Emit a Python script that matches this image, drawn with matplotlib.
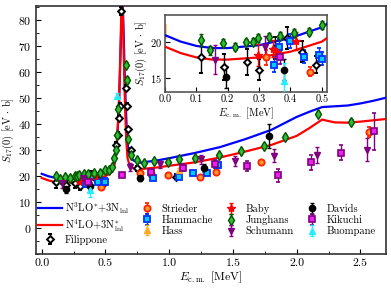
import numpy as np
import matplotlib
matplotlib.use('Agg')
import matplotlib.pyplot as plt

plt.rcParams['font.family'] = 'serif'
plt.rcParams['font.serif'] = ['cmr10']
plt.rcParams['mathtext.fontset'] = 'cm'
plt.rcParams['axes.formatter.use_mathtext'] = True
plt.rcParams['axes.unicode_minus'] = False

# theory curves
e_th = [0.0, 0.05, 0.1, 0.15, 0.2, 0.3, 0.4, 0.5, 0.55, 0.57, 0.584, 0.595, 0.607, 0.615,
        0.62, 0.625, 0.632, 0.64, 0.646, 0.652, 0.658, 0.667, 0.677, 0.69, 0.72, 0.77,
        0.9, 1.0, 1.2, 1.4, 1.6, 1.8, 2.0, 2.1, 2.2, 2.3, 2.4, 2.5, 2.6, 2.7]
s_n3lo = [20.9, 20.0, 19.4, 19.1, 19.1, 19.5, 20.5, 22.0, 23.5, 26.0, 30.0, 37.0, 49.0, 62.0,
          70.0, 80.0, 90.0, 80.0, 69.0, 58.0, 49.0, 38.0, 31.0, 28.0, 26.0, 25.2,
          26.0, 26.9, 28.9, 31.2, 34.3, 37.8, 42.8, 44.8, 46.6, 46.9, 47.2, 48.0, 49.0, 50.2]
e_th2 = [0.0, 0.05, 0.1, 0.15, 0.2, 0.3, 0.4, 0.5, 0.55, 0.57, 0.582, 0.593, 0.605, 0.613,
         0.618, 0.624, 0.63, 0.637, 0.643, 0.649, 0.655, 0.663, 0.673, 0.69, 0.72, 0.77,
         0.9, 1.0, 1.2, 1.4, 1.6, 1.8, 2.0, 2.1, 2.2, 2.25, 2.3, 2.4, 2.5, 2.6, 2.7]
s_n4lo = [19.3, 18.4, 17.8, 17.5, 17.5, 17.8, 18.6, 20.0, 21.5, 24.0, 28.0, 35.0, 47.0, 60.0,
          70.0, 82.0, 90.0, 80.0, 68.0, 55.0, 45.0, 34.0, 27.0, 24.0, 23.0, 22.7,
          23.3, 24.0, 25.3, 27.2, 29.5, 32.0, 35.5, 38.5, 41.8, 41.2, 40.7, 40.6, 41.0, 41.5, 42.0]

# experimental data
fil_e = [0.116, 0.188, 0.261, 0.30, 0.35, 0.39, 0.437, 0.48, 0.585, 0.595, 0.605, 0.612,
         0.622, 0.66, 0.668, 0.68, 0.70, 0.75, 1.05]
fil_s = [17.9, 16.5, 17.2, 16.1, 19.1, 20.5, 18.6, 16.8, 32.0, 36.0, 42.5, 47.0,
         83.5, 54.0, 47.0, 38.0, 30.0, 23.0, 19.8]
fil_err = [2.3, 1.8, 1.8, 1.5, 1.5, 1.5, 1.5, 1.2, 1.0, 1.0, 1.0, 1.0,
           1.5, 1.0, 1.0, 1.0, 1.0, 1.0, 1.0]

str_e = [0.323, 0.462, 0.77, 0.86, 0.99, 1.24, 1.37, 1.72, 2.57]
str_s = [17.8, 15.8, 21.2, 21.0, 20.3, 19.5, 21.5, 25.4, 37.0]
str_err = [1.0, 0.6, 0.8, 0.8, 0.8, 0.8, 1.0, 1.0, 2.0]

ham_e = [0.349, 0.362, 0.399, 0.444, 0.492, 0.50, 0.874, 1.08, 1.185, 1.297, 1.38]
ham_s = [16.8, 19.3, 20.1, 17.9, 18.2, 17.6, 19.4, 19.8, 21.1, 21.1, 24.1]
ham_err = [1.0, 1.0, 1.0, 0.9, 0.9, 0.9, 0.8, 0.8, 0.8, 0.8, 0.9]

hass_e = [1.08]
hass_s = [22.4]
hass_band = [20.3, 22.4]

baby_e = [0.296, 0.345, 0.357, 0.418]
baby_s = [18.1, 19.0, 18.6, 20.1]
baby_err = [1.5, 1.2, 1.0, 1.2]

jun_e = [0.116, 0.143, 0.185, 0.222, 0.259, 0.28, 0.296, 0.33, 0.365, 0.41, 0.46, 0.50,
         0.53, 0.555, 0.57, 0.58, 0.59, 0.60, 0.661, 0.667, 0.68, 0.70,
         0.745, 0.80, 0.88, 0.99, 1.08, 1.2, 1.39, 1.56, 1.74, 1.91, 2.17, 2.43]
jun_s = [20.2, 18.8, 19.8, 19.3, 19.9, 20.0, 20.5, 20.7, 20.8, 21.2, 21.4, 22.3,
         22.5, 23.5, 27.0, 30.0, 36.0, 46.0, 62.9, 57.0, 34.2, 28.0,
         26.3, 25.2, 25.9, 25.4, 26.6, 27.0, 28.0, 29.5, 31.7, 35.2, 43.9, 41.0]
jun_err = [0.8, 0.6, 0.6, 0.5, 0.5, 0.5, 0.5, 0.5, 0.5, 0.5, 0.5, 0.5,
           0.5, 0.5, 0.5, 0.5, 0.6, 0.8, 1.0, 1.0, 0.6, 0.5,
           0.5, 0.5, 0.5, 0.5, 0.5, 0.5, 0.6, 0.6, 0.7, 0.8, 0.9, 0.9]

sch_e = [0.159, 0.32, 0.69, 0.93, 1.25, 1.52, 1.82, 2.16, 2.55]
sch_s = [17.5, 19.3, 23.6, 24.5, 26.5, 25.8, 27.8, 28.2, 30.2]
sch_err = [2.0, 1.5, 1.5, 1.5, 1.8, 2.0, 2.5, 3.0, 4.5]

dav_e = [0.194, 0.38, 0.77, 1.27, 1.78]
dav_s = [15.1, 16.1, 19.4, 23.0, 35.5]
dav_err = [1.5, 1.5, 1.2, 1.5, 4.5]

kik_e = [0.365, 0.63, 0.86, 1.11, 1.36, 1.61, 1.85, 2.11, 2.35, 2.61]
kik_s = [17.9, 20.4, 21.5, 23.3, 24.6, 23.9, 20.3, 25.3, 29.1, 37.2]
kik_err = [1.0, 0.8, 1.0, 1.2, 1.5, 2.0, 2.5, 3.0, 2.8, 7.0]

buo_e = [0.38, 0.594]
buo_s = [14.5, 51.0]
buo_err = [2.5, 1.0]

fig = plt.figure(figsize=(3.91, 2.89), dpi=100)
ax = fig.add_axes([0.092, 0.121, 0.895, 0.858])
axin = fig.add_axes([0.422, 0.682, 0.414, 0.266])


def draw(a, ms=1.0):
    p1, = a.plot(e_th, s_n3lo, color='#0000ff', lw=1.6, zorder=3,
                 label=r'N$^3$LO$^{*}$+3N$_{\rm lnl}$')
    p2, = a.plot(e_th2, s_n4lo, color='#ff0000', lw=1.6, zorder=3,
                 label=r'N$^4$LO+3N$_{\rm lnl}^{*}$')
    kw = dict(ls='none', capsize=1.2, elinewidth=1.0, zorder=4)
    h = [p1, p2]
    h.append(a.errorbar(fil_e, fil_s, yerr=fil_err, fmt='D', ms=3.5 * ms, mfc='white',
                        mec='black', mew=1.4, color='black', label='Filippone', **kw))
    h.append(a.errorbar(str_e, str_s, yerr=str_err, fmt='o', ms=4.5 * ms, mfc='#ff9933',
                        mec='#ff2200', mew=1.3, color='#ff2200', label='Strieder', **kw))
    h.append(a.errorbar(ham_e, ham_s, yerr=ham_err, fmt='s', ms=4.2 * ms, mfc='#00ccff',
                        mec='#0033ff', mew=1.3, color='#0033ff', label='Hammache', **kw))
    h.append(a.errorbar(hass_e, hass_s, yerr=[0.8], fmt='^', ms=4.5 * ms, mfc='#ffaa22',
                        mec='#ffaa22', color='#ffaa22', label='Hass', **kw))
    h.append(a.errorbar(baby_e, baby_s, yerr=baby_err, fmt='*', ms=6 * ms, mfc='#ff0000',
                        mec='#ff0000', color='#ff0000', label='Baby', **kw))
    h.append(a.errorbar(jun_e, jun_s, yerr=jun_err, fmt='d', ms=5 * ms, mfc='#33bb33',
                        mec='#005500', mew=1.0, color='#005500', label='Junghans', **kw))
    h.append(a.errorbar(sch_e, sch_s, yerr=sch_err, fmt='v', ms=4.5 * ms, mfc='#800080',
                        mec='#800080', color='#800080', label='Schumann', **kw))
    h.append(a.errorbar(dav_e, dav_s, yerr=dav_err, fmt='o', ms=4.5 * ms, mfc='black',
                        mec='black', color='black', label='Davids', **kw))
    h.append(a.errorbar(kik_e, kik_s, yerr=kik_err, fmt='s', ms=4.2 * ms, mfc='#ee22ee',
                        mec='#800080', mew=1.2, color='#800080', label='Kikuchi', **kw))
    h.append(a.errorbar(buo_e, buo_s, yerr=buo_err, fmt='^', ms=4.5 * ms, mfc='#22eeff',
                        mec='#22eeff', color='#22eeff', label='Buompane', **kw))
    return h


handles = draw(ax)
ax.set_xlim(-0.045, 2.7)
ax.set_ylim(-10, 85.5)
ax.set_xticks(np.arange(0, 2.6, 0.5))
ax.set_xticks(np.arange(0, 2.7, 0.25), minor=True)
ax.set_yticks(np.arange(0, 81, 10))
ax.set_yticks(np.arange(-10, 86, 5), minor=True)
ax.tick_params(which='both', direction='in', labelsize=8.5)
ax.tick_params(which='minor', length=2)
ax.xaxis.set_major_formatter(matplotlib.ticker.FormatStrFormatter('%.1f'))
ax.set_xlabel(r'$E_{\rm c.m.}$ [MeV]', fontsize=8.5, labelpad=1)
ax.set_ylabel(r'$S_{17}(0)$ [eV$\,\cdot\,$b]', fontsize=7.5)
ax.yaxis.set_label_coords(-0.056, 0.5)
for s in ax.spines.values():
    s.set_color('#333333')
    s.set_linewidth(1.2)

leg = ax.legend(handles=handles, loc='upper left', bbox_to_anchor=(0.005, 0.215), ncol=4,
                frameon=False, fontsize=7.6, handlelength=2.3, handletextpad=0.25,
                columnspacing=0.55, labelspacing=0.12, borderaxespad=0, borderpad=0)

draw(axin, ms=1.0)
axin.fill_between([0.0, 0.006], hass_band[0], hass_band[1], color='#ffbb66', alpha=0.8,
                  lw=0, zorder=2)
axin.set_xlim(0, 0.516)
axin.set_ylim(13, 23.7)
axin.set_xticks(np.arange(0, 0.51, 0.1))
axin.set_yticks([15, 20])
axin.tick_params(which='both', direction='in', labelsize=7.5, pad=2)
axin.xaxis.set_major_formatter(matplotlib.ticker.FormatStrFormatter('%.1f'))
axin.set_xlabel(r'$E_{\rm c.m.}$ [MeV]', fontsize=7.5, labelpad=1)
axin.set_ylabel(r'$S_{17}(0)$ [eV$\,\cdot\,$b]', fontsize=7.5, labelpad=1)
for s in axin.spines.values():
    s.set_color('#555555')
    s.set_linewidth(1.2)

fig.savefig('out.png', dpi=100)
